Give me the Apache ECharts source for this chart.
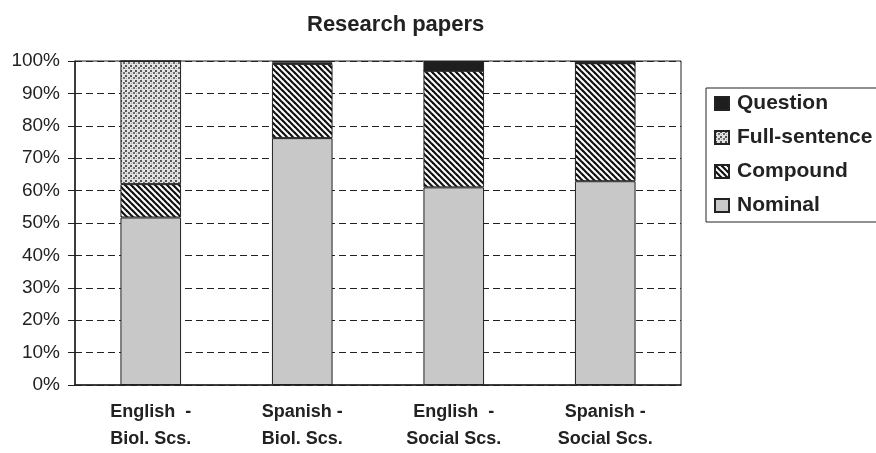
<!DOCTYPE html>
<html>
<head>
<meta charset="utf-8">
<script src="https://cdn.jsdelivr.net/npm/echarts@6/dist/echarts.min.js"></script>
<style>
html,body{margin:0;padding:0;background:#fff;}
#chart{width:876px;height:453px;}
</style>
</head>
<body>
<div id="chart"></div>
<script>
// ---- data ----
const categories = ['English  -\nBiol. Scs.', 'Spanish -\nBiol. Scs.', 'English  -\nSocial Scs.', 'Spanish -\nSocial Scs.'];
const nominal      = [51.7, 76.2, 61.0, 62.9];
const compound     = [10.3, 22.9, 36.0, 36.4];
const fullSentence = [38.0, 0.4, 0.0, 0.0];
const question     = [0.0, 0.5, 3.0, 0.7];
const yTicks = [0, 10, 20, 30, 40, 50, 60, 70, 80, 90, 100];
const seriesNames = ['Nominal', 'Compound', 'Full-sentence', 'Question'];

// ---- patterns ----
function stripePattern() {
  const p = 6;
  const c = document.createElement('canvas');
  c.width = p; c.height = p;
  const g = c.getContext('2d');
  g.fillStyle = '#fff'; g.fillRect(0, 0, p, p);
  g.strokeStyle = '#111'; g.lineWidth = 2.2;
  for (let k = -1; k <= 1; k++) {
    g.beginPath();
    g.moveTo(k * p - 1, -1);
    g.lineTo(k * p + p + 1, p + 1);
    g.stroke();
  }
  return { image: c, repeat: 'repeat' };
}
function dotPattern() {
  const c = document.createElement('canvas');
  c.width = 5; c.height = 5;
  const g = c.getContext('2d');
  g.fillStyle = '#e2e2e2'; g.fillRect(0, 0, 5, 5);
  g.fillStyle = '#555';
  g.fillRect(0, 0, 2, 2);
  g.fillStyle = '#6e6e6e';
  g.fillRect(3, 2, 2, 2);
  g.fillStyle = '#aaa';
  g.fillRect(1, 3, 1, 1);
  return { image: c, repeat: 'repeat' };
}

const fills = ['#c8c8c8', stripePattern(), dotPattern(), '#1e1e1e'];
const dataSets = [nominal, compound, fullSentence, question];

const chart = echarts.init(document.getElementById('chart'), null, { renderer: 'canvas' });
const txt = '#222';
const font = 'Liberation Sans, Arial, Helvetica, sans-serif';

chart.setOption({
  animation: false,
  backgroundColor: '#fff',
  title: {
    text: 'Research papers',
    left: 302, top: 9,
    textStyle: { fontFamily: font, fontWeight: 'bold', fontSize: 22, color: txt }
  },
  legend: {
    orient: 'vertical',
    left: 706, top: 88,
    data: ['Question', 'Full-sentence', 'Compound', 'Nominal'],
    icon: 'rect',
    itemWidth: 14, itemHeight: 13, itemGap: 13,
    padding: [5, 40, 6, 8],
    borderColor: '#222', borderWidth: 1,
    textStyle: { fontFamily: font, fontWeight: 'bold', fontSize: 21, color: txt, padding: [0, 0, 0, 3] }
  },
  grid: {
    left: 75, right: 195, top: 61, bottom: 68,
    show: true, borderColor: '#222', borderWidth: 1
  },
  xAxis: {
    type: 'category',
    data: categories,
    axisLine: { lineStyle: { color: '#222', width: 1.5 } },
    axisTick: { show: false },
    axisLabel: {
      fontFamily: font, fontWeight: 'bold', fontSize: 18, color: txt,
      lineHeight: 27, margin: 14, interval: 0
    }
  },
  yAxis: {
    type: 'value',
    min: yTicks[0], max: yTicks[yTicks.length - 1], interval: 10,
    axisLine: { show: true, lineStyle: { color: '#222', width: 1.5 } },
    axisTick: { show: true, length: 7, lineStyle: { color: '#222' } },
    axisLabel: {
      fontFamily: font, fontSize: 19, color: txt, margin: 15,
      formatter: '{value}%'
    },
    splitLine: { show: true, lineStyle: { color: '#222', type: [7, 4], width: 1 } }
  },
  series: seriesNames.map((name, i) => ({
    name: name,
    type: 'bar',
    stack: 'total',
    barWidth: '40%',
    data: dataSets[i],
    itemStyle: { color: fills[i], borderColor: '#222', borderWidth: 1 },
    emphasis: { disabled: true }
  }))
});
</script>
</body>
</html>
